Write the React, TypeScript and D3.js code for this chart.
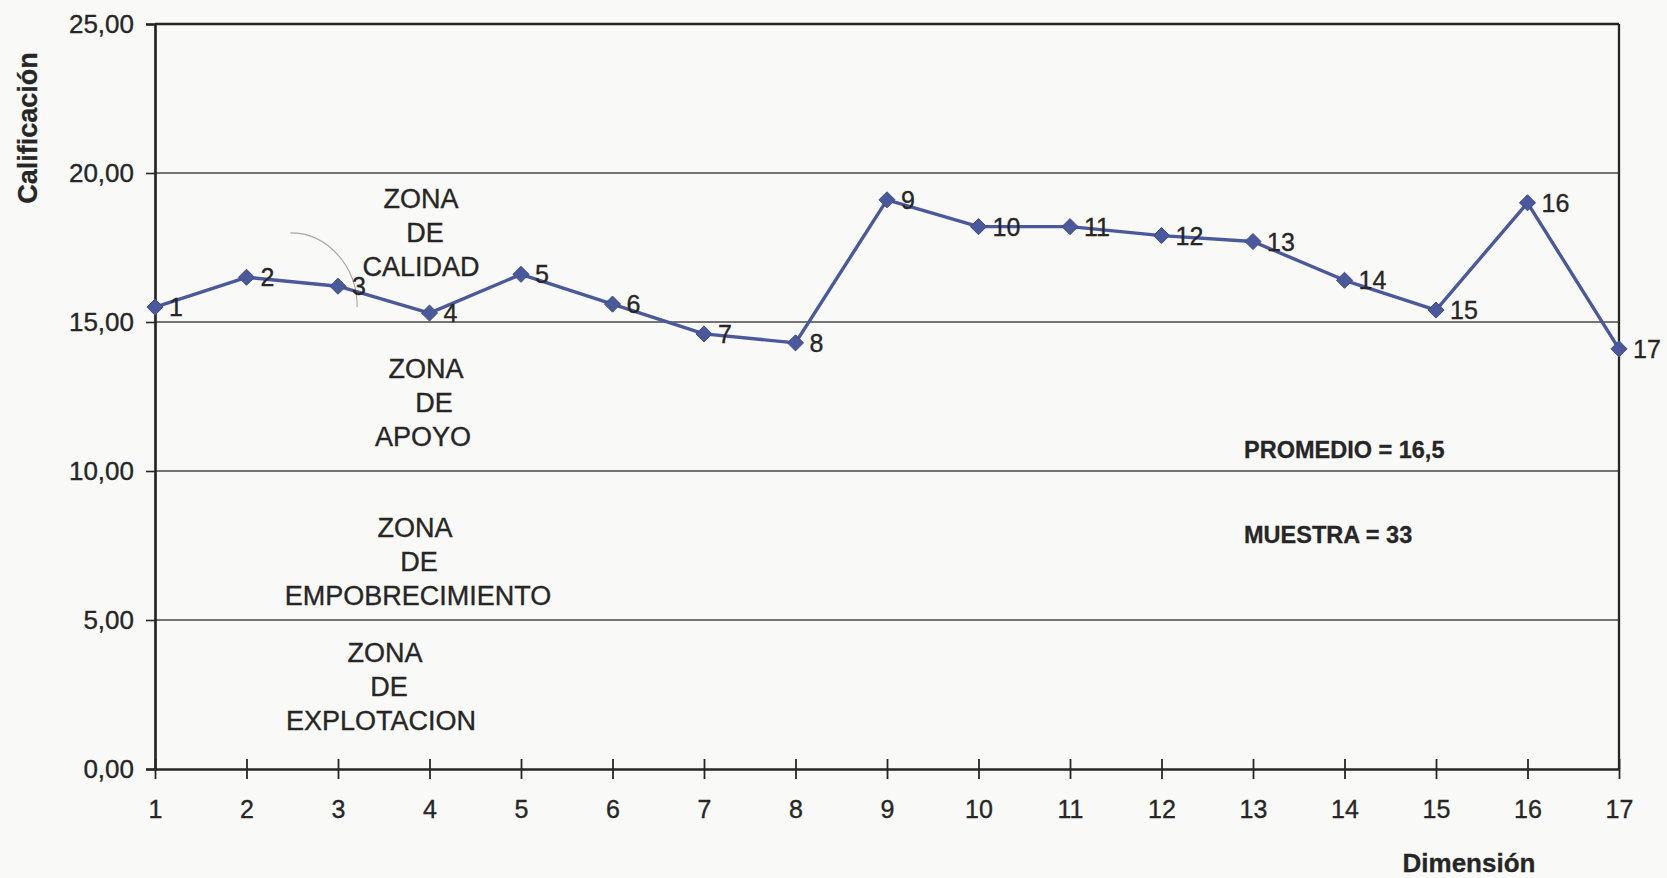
import React, { useEffect, useRef } from 'react';
import * as d3 from 'd3';

// Dimension numbers on the horizontal axis
const dimensions = ['1', '2', '3', '4', '5', '6', '7', '8', '9', '10', '11', '12', '13', '14', '15', '16', '17'];

// Average score for each dimension
const scores = [15.5, 16.5, 16.2, 15.3, 16.6, 15.6, 14.6, 14.3, 19.1, 18.2, 18.2, 17.9, 17.7, 16.4, 15.4, 19.0, 14.1];

// Vertical axis ticks
const yTickValues = [0, 5, 10, 15, 20, 25];

// Zone captions (each block is stacked line by line)
const zoneCalidad = ['ZONA', 'DE', 'CALIDAD'];
const zoneApoyo = ['ZONA', 'DE', 'APOYO'];
const zoneEmpobrecimiento = ['ZONA', 'DE', 'EMPOBRECIMIENTO'];
const zoneExplotacion = ['ZONA', 'DE', 'EXPLOTACION'];

// Summary figures
const summaryLines = ['PROMEDIO = 16,5', 'MUESTRA = 33'];

const W = 1667;
const H = 878;
const FONT = "'Liberation Sans', Arial, Helvetica, sans-serif";
const SERIES_COLOR = '#4a599b';
const INK = '#262626';

export default function App() {
  const ref = useRef<SVGSVGElement>(null);

  useEffect(() => {
    const svg = d3.select(ref.current);
    svg.selectAll('*').remove();

    const left = 155;
    const right = 1619;
    const top = 24;
    const bottom = 769;

    const x = d3.scalePoint<string>().domain(dimensions).range([left, right]).padding(0);
    const y = d3.scaleLinear().domain([0, 25]).range([bottom, top]);

    const locale = d3.formatLocale({ decimal: ',', thousands: '.', grouping: [3], currency: ['', ''] });
    const fmt = locale.format('.2f');

    svg.append('rect').attr('width', W).attr('height', H).attr('fill', '#f9f9f7');

    // Horizontal gridlines
    svg
      .append('g')
      .selectAll('line')
      .data(yTickValues.filter((v) => v > 0 && v < 25))
      .join('line')
      .attr('x1', left)
      .attr('x2', right)
      .attr('y1', (d) => y(d))
      .attr('y2', (d) => y(d))
      .attr('stroke', '#474747')
      .attr('stroke-width', 1.5);

    // Top and right frame
    svg
      .append('line')
      .attr('x1', left)
      .attr('x2', right)
      .attr('y1', y(25))
      .attr('y2', y(25))
      .attr('stroke', INK)
      .attr('stroke-width', 2.3);
    svg
      .append('line')
      .attr('x1', right)
      .attr('x2', right)
      .attr('y1', y(25))
      .attr('y2', y(0))
      .attr('stroke', INK)
      .attr('stroke-width', 2.3);

    const textStyle = (sel: any, size: number, bold = false) =>
      sel
        .attr('fill', INK)
        .style('font-family', FONT)
        .style('font-size', `${size}px`)
        .style('font-weight', bold ? 'bold' : 'normal')
        .attr('stroke', INK)
        .attr('stroke-width', bold ? 0.3 : 0.35);

    // Y axis
    const yAxis = d3
      .axisLeft(y)
      .tickValues(yTickValues)
      .tickSize(9)
      .tickPadding(12)
      .tickFormat((d) => fmt(d as number));
    const gy = svg.append('g').attr('transform', `translate(${left},0)`).call(yAxis);
    gy.select('.domain').attr('stroke', INK).attr('stroke-width', 2.7);
    gy.selectAll('.tick line').attr('stroke', INK).attr('stroke-width', 1.6);
    textStyle(gy.selectAll('.tick text'), 26);

    // X axis with ticks crossing the line
    const xAxis = d3.axisBottom(x).tickSize(0).tickPadding(31);
    const gx = svg.append('g').attr('transform', `translate(0,${bottom})`).call(xAxis);
    gx.select('.domain').attr('stroke', INK).attr('stroke-width', 2.7);
    textStyle(gx.selectAll('.tick text'), 25);
    gx.selectAll('.tick')
      .append('line')
      .attr('y1', -10)
      .attr('y2', 10)
      .attr('stroke', INK)
      .attr('stroke-width', 1.8);

    // Axis titles
    textStyle(
      svg
        .append('text')
        .attr('transform', `translate(37,128) rotate(-90)`)
        .attr('text-anchor', 'middle')
        .text('Calificación'),
      27,
      true
    );
    textStyle(
      svg.append('text').attr('x', 1469).attr('y', 872).attr('text-anchor', 'middle').text('Dimensión'),
      26,
      true
    );

    // Zone captions
    const zoneBlocks: { lines: string[]; xs: number[]; y0: number }[] = [
      { lines: zoneCalidad, xs: [421, 425, 421], y0: 198 },
      { lines: zoneApoyo, xs: [426, 434, 423], y0: 368 },
      { lines: zoneEmpobrecimiento, xs: [415, 419, 418], y0: 527 },
      { lines: zoneExplotacion, xs: [385, 389, 381], y0: 652 },
    ];
    const lineStep = 34.3;
    zoneBlocks.forEach((b) => {
      textStyle(
        svg
          .append('g')
          .selectAll('text')
          .data(b.lines)
          .join('text')
          .attr('x', (_: string, i: number) => b.xs[i])
          .attr('y', (_: string, i: number) => b.y0 + i * lineStep)
          .attr('dy', '0.36em')
          .attr('text-anchor', 'middle')
          .text((d: string) => d),
        27
      );
    });

    // Thin curved stroke near the quality zone caption
    const arcStart: [number, number] = [1.48, 17.99];
    const arcEnd: [number, number] = [2.21, 15.5];
    const xi = d3.scaleLinear().domain([0, dimensions.length - 1]).range([left, right]);
    const sx = xi(arcStart[0]);
    const sy = y(arcStart[1]);
    const ex = xi(arcEnd[0]);
    const ey = y(arcEnd[1]);
    svg
      .append('path')
      .attr('d', `M${sx},${sy} A${ex - sx},${ey - sy} 0 0 1 ${ex},${ey}`)
      .attr('fill', 'none')
      .attr('stroke', '#a5a5a5')
      .attr('stroke-width', 1.1);

    // Summary
    textStyle(
      svg
        .append('g')
        .selectAll('text')
        .data(summaryLines)
        .join('text')
        .attr('x', 1244)
        .attr('y', (_: string, i: number) => 450 + i * 85)
        .attr('dy', '0.36em')
        .text((d: string) => d),
      23.5,
      true
    );

    // Series line
    const pts = dimensions.map((d, i) => ({ d, v: scores[i] }));
    const line = d3
      .line<{ d: string; v: number }>()
      .x((p) => x(p.d) as number)
      .y((p) => y(p.v));
    svg
      .append('path')
      .datum(pts)
      .attr('d', line)
      .attr('fill', 'none')
      .attr('stroke', SERIES_COLOR)
      .attr('stroke-width', 3.4)
      .attr('stroke-linejoin', 'round');

    // Diamond markers
    const diamond = d3.symbol().type(d3.symbolDiamond2).size(165);
    svg
      .append('g')
      .selectAll('path')
      .data(pts)
      .join('path')
      .attr('transform', (p) => `translate(${x(p.d)},${y(p.v)})`)
      .attr('d', diamond)
      .attr('fill', SERIES_COLOR)
      .attr('stroke', '#3d4b8a')
      .attr('stroke-width', 1);

    // Point labels (dimension number to the right of each marker)
    textStyle(
      svg
        .append('g')
        .selectAll('text')
        .data(pts)
        .join('text')
        .attr('x', (p: { d: string }) => (x(p.d) as number) + 14)
        .attr('y', (p: { v: number }) => y(p.v))
        .attr('dy', '0.36em')
        .text((p: { d: string }) => p.d),
      25
    );
  }, []);

  return (
    <svg
      ref={ref}
      width={W}
      height={H}
      style={{ position: 'fixed', left: 0, top: 0, display: 'block' }}
    />
  );
}
